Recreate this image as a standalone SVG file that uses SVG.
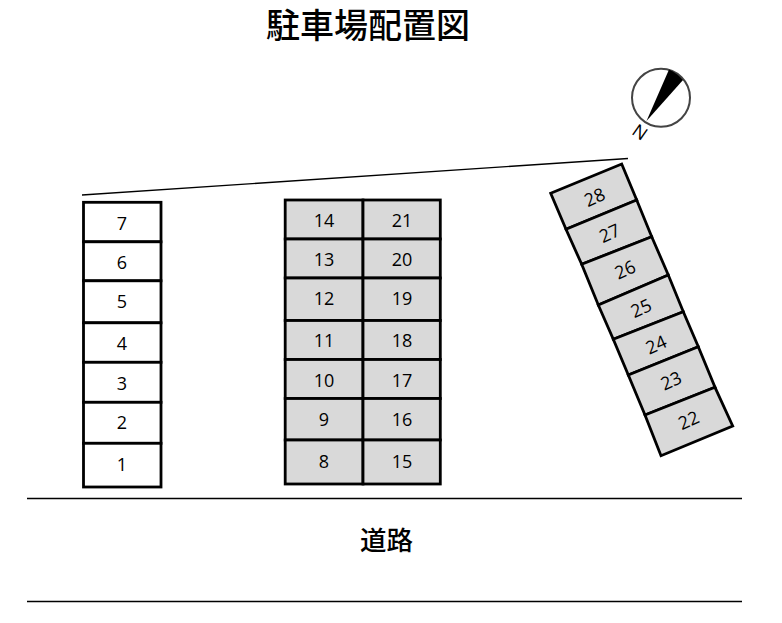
<svg xmlns="http://www.w3.org/2000/svg" width="782" height="623" viewBox="0 0 782 623">
<style>
.w{fill:#fff;stroke:#000;stroke-width:2.8;stroke-linejoin:miter}
.g{fill:#d9d9d9;stroke:#000;stroke-width:2.8;stroke-linejoin:miter}
.n{font-family:"Open Sans","Noto Sans",sans-serif;font-size:18px;fill:#000;text-anchor:middle}
.j{font-family:"Noto Sans CJK JP",sans-serif;font-weight:500;fill:#000;text-anchor:middle}
.l{fill:none;stroke:#000;stroke-width:1.3}
</style>
<rect width="782" height="623" fill="#fff"/>
<text class="j" x="368" y="38" font-size="34" id="title">駐車場配置図</text>
<text class="j" x="386.5" y="549.5" font-size="26.5" id="road">道路</text>
<g id="connectors">
<line class="l" x1="82" y1="195" x2="628" y2="158.5"/>
<line class="l" x1="27" y1="498.5" x2="742" y2="498.5"/>
<line class="l" x1="27" y1="601.5" x2="742" y2="601.5"/>
</g>
<g id="compass">
<circle cx="661" cy="97.7" r="29" fill="#fff" stroke="#444" stroke-width="2"/>
<path d="M646.5 121L669 69.5 Q677 73 683 80Z" fill="#000"/>
<text class="n" transform="translate(640 132) rotate(35)" y="6.5" font-size="18">N</text>
</g>
<g id="s7"><rect class="w" x="83.5" y="202.3" width="77.5" height="39.5"/><text class="n" x="122" y="229.5">7</text></g>
<g id="s6"><rect class="w" x="83.5" y="241.8" width="77.5" height="39"/><text class="n" x="122" y="268.5">6</text></g>
<g id="s5"><rect class="w" x="83.5" y="280.8" width="77.5" height="42"/><text class="n" x="122" y="307.5">5</text></g>
<g id="s4"><rect class="w" x="83.5" y="322.8" width="77.5" height="39.5"/><text class="n" x="122" y="349.5">4</text></g>
<g id="s3"><rect class="w" x="83.5" y="362.3" width="77.5" height="40"/><text class="n" x="122" y="389.5">3</text></g>
<g id="s2"><rect class="w" x="83.5" y="402.3" width="77.5" height="41"/><text class="n" x="122" y="428.5">2</text></g>
<g id="s1"><rect class="w" x="83.5" y="443.3" width="77.5" height="43.7"/><text class="n" x="122" y="470.5">1</text></g>
<g id="s14"><rect class="g" x="285.2" y="200" width="77.8" height="39"/><text class="n" x="324" y="226.5">14</text></g>
<g id="s13"><rect class="g" x="285.2" y="239" width="77.8" height="39"/><text class="n" x="324" y="265.5">13</text></g>
<g id="s12"><rect class="g" x="285.2" y="278" width="77.8" height="42.5"/><text class="n" x="324" y="304.5">12</text></g>
<g id="s11"><rect class="g" x="285.2" y="320.5" width="77.8" height="39"/><text class="n" x="324" y="346.5">11</text></g>
<g id="s10"><rect class="g" x="285.2" y="359.5" width="77.8" height="39"/><text class="n" x="324" y="386.5">10</text></g>
<g id="s9"><rect class="g" x="285.2" y="398.5" width="77.8" height="41.5"/><text class="n" x="324" y="425.5">9</text></g>
<g id="s8"><rect class="g" x="285.2" y="440" width="77.8" height="44"/><text class="n" x="324" y="467.5">8</text></g>
<g id="s21"><rect class="g" x="363" y="200" width="77.3" height="39"/><text class="n" x="402" y="226.5">21</text></g>
<g id="s20"><rect class="g" x="363" y="239" width="77.3" height="39"/><text class="n" x="402" y="265.5">20</text></g>
<g id="s19"><rect class="g" x="363" y="278" width="77.3" height="42.5"/><text class="n" x="402" y="304.5">19</text></g>
<g id="s18"><rect class="g" x="363" y="320.5" width="77.3" height="39"/><text class="n" x="402" y="346.5">18</text></g>
<g id="s17"><rect class="g" x="363" y="359.5" width="77.3" height="39"/><text class="n" x="402" y="386.5">17</text></g>
<g id="s16"><rect class="g" x="363" y="398.5" width="77.3" height="41.5"/><text class="n" x="402" y="425.5">16</text></g>
<g id="s15"><rect class="g" x="363" y="440" width="77.3" height="44"/><text class="n" x="402" y="467.5">15</text></g>
<g id="s28"><polygon class="g" points="550.7,193.3 621.7,164 636.7,200 566,229.3"/><text class="n" transform="translate(594.5 197) rotate(-24)" y="6.5">28</text></g>
<g id="s27"><polygon class="g" points="566,229.3 636.7,200 651.7,236.7 581.7,264.3"/><text class="n" transform="translate(609.5 233) rotate(-24)" y="6.5">27</text></g>
<g id="s26"><polygon class="g" points="581.7,264.3 651.7,236.7 668.3,275 598.3,305"/><text class="n" transform="translate(625 269.5) rotate(-24)" y="6.5">26</text></g>
<g id="s25"><polygon class="g" points="598.3,305 668.3,275 683.3,311.7 613.3,339.3"/><text class="n" transform="translate(641 308) rotate(-24)" y="6.5">25</text></g>
<g id="s24"><polygon class="g" points="613.3,339.3 683.3,311.7 698.3,346.7 628.3,375"/><text class="n" transform="translate(656 344.5) rotate(-24)" y="6.5">24</text></g>
<g id="s23"><polygon class="g" points="628.3,375 698.3,346.7 715,387.3 645,415"/><text class="n" transform="translate(671 380.5) rotate(-24)" y="6.5">23</text></g>
<g id="s22"><polygon class="g" points="645,415 715,387.3 732.7,426 661,455.7"/><text class="n" transform="translate(688.5 420) rotate(-24)" y="6.5">22</text></g>
</svg>
